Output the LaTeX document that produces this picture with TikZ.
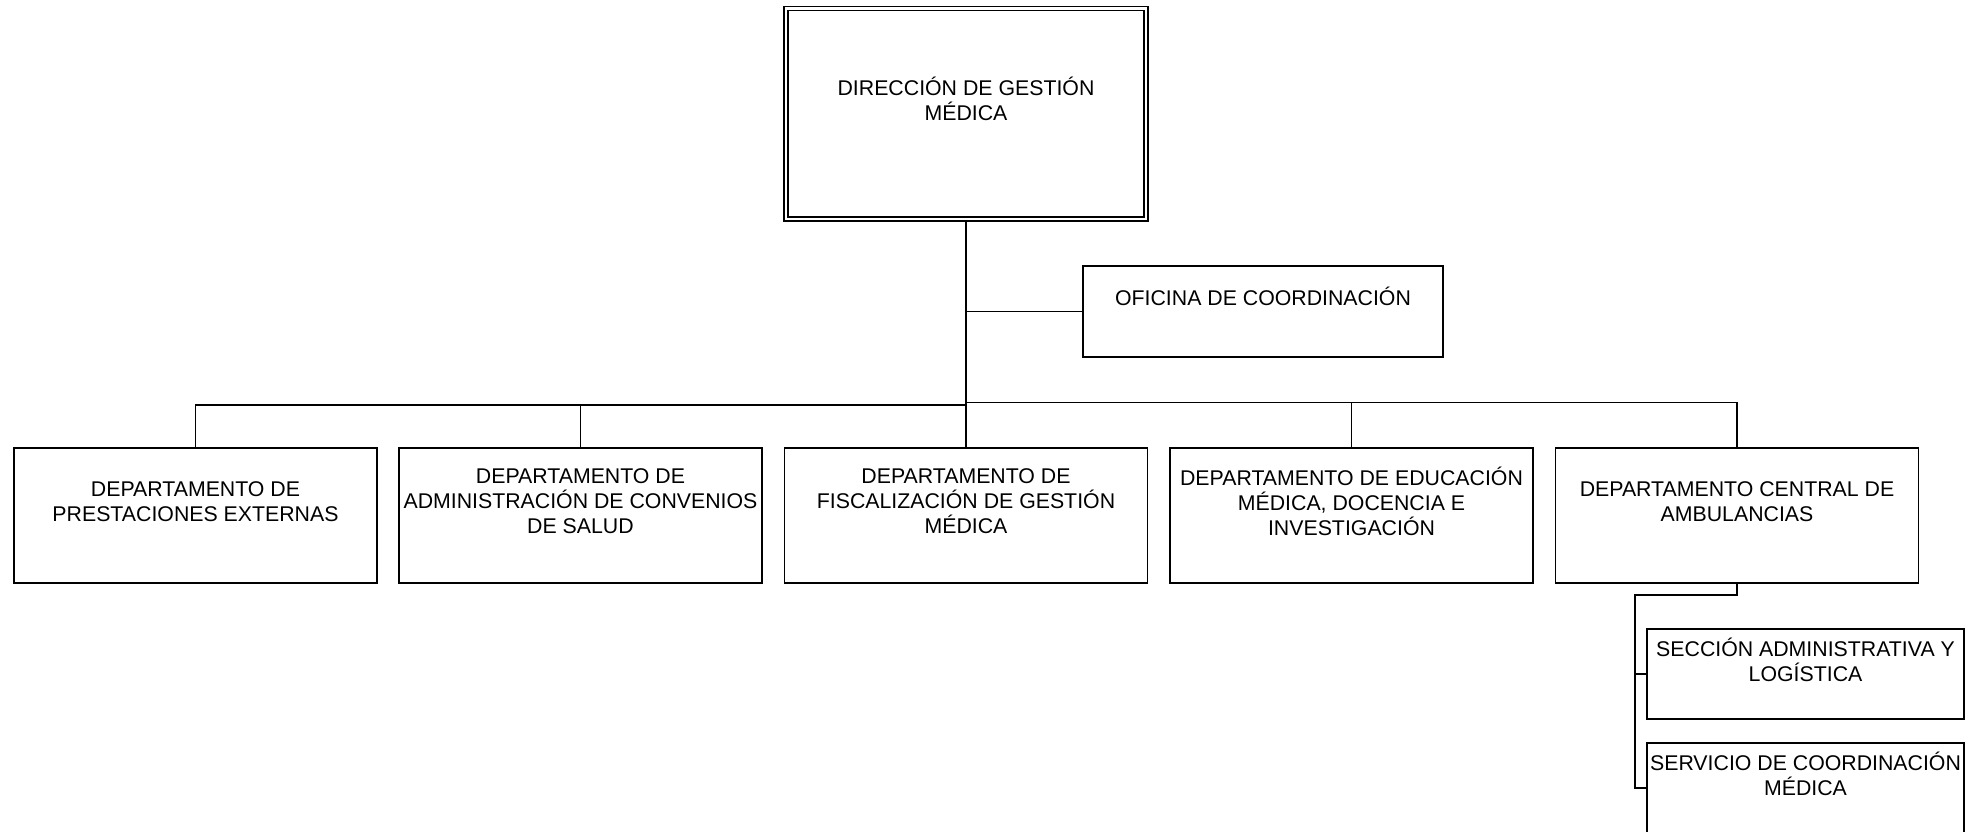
\documentclass[tikz,border=0pt]{standalone}
\usepackage{fontspec}
\setmainfont{Liberation Sans}
\newcommand\lstr{\rule[-5pt]{0pt}{19.5pt}}
\begin{document}
\begin{tikzpicture}[x=1pt,y=-1pt,
  boxst/.style={draw=black,line width=1.5pt,rectangle,inner sep=0pt,fill=white},
  deptbox/.style={boxst,minimum width=363,minimum height=135},
  subbox/.style={boxst,minimum width=317,minimum height=90},
  txt/.style={font=\fontsize{21.3}{25}\selectfont,align=center,inner sep=0pt,text=black},
  conn/.style={draw=black,line width=1.5pt}]
\useasboundingbox (0,0) rectangle (1975,831);
\clip (0,0) rectangle (1975,831);
\fill[white] (0,0) rectangle (1975,831);

% top box
\node[draw=black,line width=1.3pt,double,double distance=2.7pt,minimum width=360,minimum height=210.5,inner sep=0pt] (dir) at (966,113.75) {};
\node[txt] (tdir) at (966,101) {\lstr DIRECCIÓN DE GESTIÓN\\\lstr MÉDICA};

% oficina
\node[boxst,minimum width=360,minimum height=91] (of) at (1263,311.5) {};
\node[txt] (tof) at (1263,298.5) {\lstr OFICINA DE COORDINACIÓN};

% departments
\node[deptbox] (d1) at (195.5,515.5) {};
\node[deptbox] (d2) at (580.5,515.5) {};
\node[deptbox] (d3) at (966,515.5) {};
\node[deptbox] (d4) at (1351.5,515.5) {};
\node[deptbox] (d5) at (1737,515.5) {};
\node[txt] (t1) at (195.5,504) {\lstr DEPARTAMENTO DE\\\lstr PRESTACIONES EXTERNAS};
\node[txt] (t2) at (580.5,504) {\lstr DEPARTAMENTO DE\\\lstr ADMINISTRACIÓN DE CONVENIOS\\\lstr DE SALUD};
\node[txt] (t3) at (966,504) {\lstr DEPARTAMENTO DE\\\lstr FISCALIZACIÓN DE GESTIÓN\\\lstr MÉDICA};
\node[txt] (t4) at (1351.5,504) {\lstr DEPARTAMENTO DE EDUCACIÓN\\\lstr MÉDICA, DOCENCIA E\\\lstr INVESTIGACIÓN};
\node[txt] (t5) at (1737,504) {\lstr DEPARTAMENTO CENTRAL DE\\\lstr AMBULANCIAS};

% sub boxes
\node[subbox] (s1) at (1805.5,674) {};
\node[subbox] (s2) at (1805.5,788) {};
\node[txt] (ts1) at (1805.5,662.5) {\lstr SECCIÓN ADMINISTRATIVA Y\\\lstr LOGÍSTICA};
\node[txt] (ts2) at (1805.5,776) {\lstr SERVICIO DE COORDINACIÓN\\\lstr MÉDICA};

% connectors
\coordinate (busl) at (966,405);
\coordinate (busr) at (966,402.5);
\coordinate (ab) at (1635,595);
\draw[conn,line width=1.9pt] (dir.south) -- (d3.north);
\draw[conn] (dir.south |- of.west) -- (of.west);
\draw[conn] (busl) -| (d1.north);
\draw[conn] (busl) -| (d2.north);
\draw[conn] (busr) -| (d4.north);
\draw[conn] (busr) -| (d5.north);
\draw[conn] (d5.south) |- (ab) |- (s2.west);
\draw[conn] (ab |- s1.west) -- (s1.west);
\end{tikzpicture}
\end{document}
